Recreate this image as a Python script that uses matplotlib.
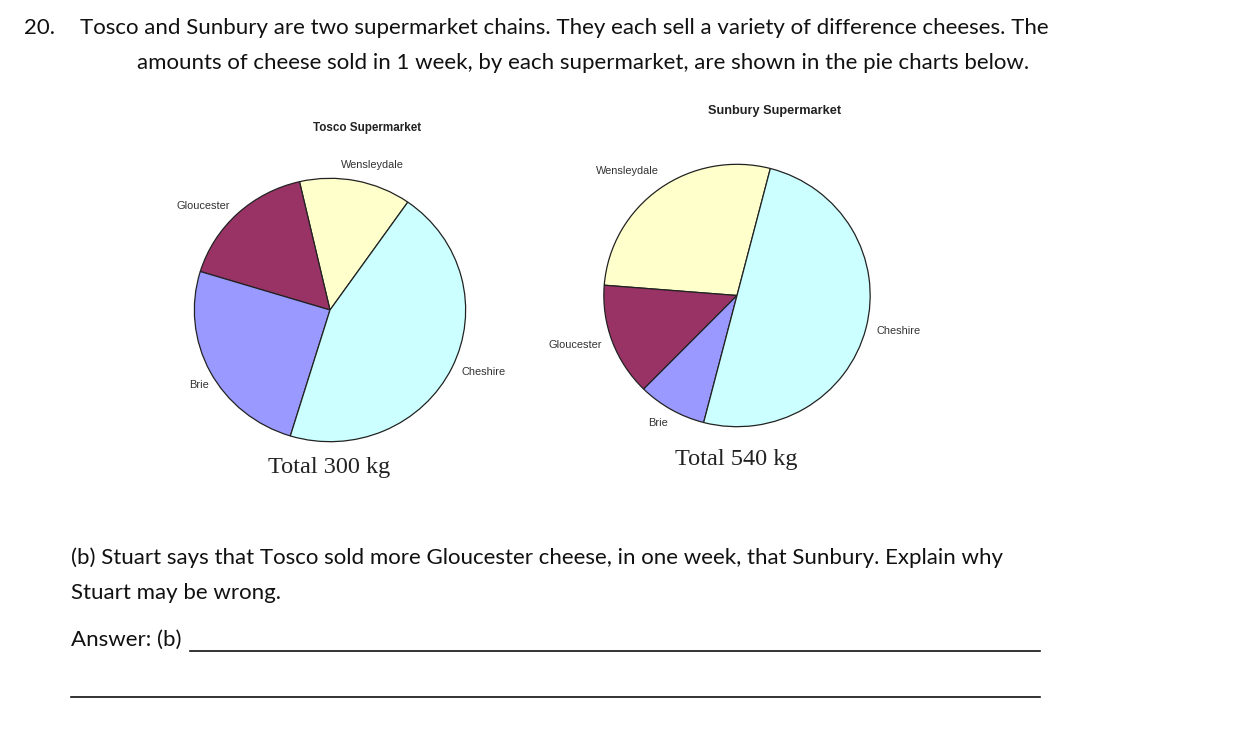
import matplotlib
matplotlib.use("Agg")
import matplotlib.pyplot as plt

# Cheese sales in one week (kg)
cheeses = ["Wensleydale", "Gloucester", "Brie", "Cheshire"]
tosco_kg = [40, 50, 75, 135]
sunbury_kg = [150, 75, 45, 270]
colors = ["#FFFFCC", "#993366", "#9999FF", "#CCFFFF"]

W, H = 1258, 752
TEXT_FONT = ["Lato", "DejaVu Sans"]
PIE_FONT = ["Liberation Sans", "DejaVu Sans"]

fig = plt.figure(figsize=(W / 100, H / 100), dpi=100)
fig.patch.set_facecolor("white")

# page layer in pixel coordinates
page = fig.add_axes([0, 0, 1, 1])
page.set_xlim(0, W)
page.set_ylim(H, 0)
page.axis("off")

body = dict(fontsize=16, family=TEXT_FONT, color="#111111", va="center", ha="left")
page.text(24, 28, "20.", **body)
page.text(80, 28, "Tosco and Sunbury are two supermarket chains. They each sell a variety of difference cheeses. The", **body)
page.text(137, 63, "amounts of cheese sold in 1 week, by each supermarket, are shown in the pie charts below.", **body)
page.text(71, 558, "(b) Stuart says that Tosco sold more Gloucester cheese, in one week, that Sunbury. Explain why", **body)
page.text(71, 593, "Stuart may be wrong.", **body)
page.text(71, 640, "Answer: (b)", **body)
page.plot([190, 1040], [651, 651], color="#111111", lw=1.2)
page.plot([71, 1040], [697, 697], color="#111111", lw=1.2)


def draw_pie(cx, cy, rx, ry, values, start, title, title_xy, title_size, total, total_xy, moves):
    ax = fig.add_axes([(cx - rx) / W, (H - cy - ry) / H, 2 * rx / W, 2 * ry / H])
    _, labels = ax.pie(values, labels=cheeses, colors=colors, startangle=start, counterclock=True,
                       labeldistance=1.08, radius=1,
                       wedgeprops=dict(edgecolor="#222222", linewidth=0.9),
                       textprops=dict(fontsize=7.9, family=PIE_FONT, color="#333333"))
    # nudge a few labels to where the original chart put them
    for idx, (pos, ha) in moves.items():
        labels[idx].set_position(pos)
        labels[idx].set_ha(ha)
    ax.set_aspect("auto")
    ax.set_xlim(-1.01, 1.01)
    ax.set_ylim(-1.01, 1.01)
    page.text(title_xy[0], title_xy[1], title, fontsize=title_size, fontweight="bold",
              family=PIE_FONT, ha="center", va="center", color="#222222")
    page.text(total_xy[0], total_xy[1], total, fontsize=17.5, family=["Liberation Serif", "DejaVu Serif"],
              ha="center", va="center", color="#222222")
    return ax


draw_pie(330, 310, 137, 133, tosco_kg, 55, "Tosco Supermarket", (367, 128), 8.4,
         "Total 300 kg", (329, 467),
         {0: ((0.314, 1.10), "center"), 2: ((-0.89, -0.57), "right")})
draw_pie(737, 295.5, 134.5, 132.5, sunbury_kg, 75.5, "Sunbury Supermarket", (775, 111), 9.2,
         "Total 540 kg", (736, 459),
         {0: ((-0.59, 0.95), "right"), 2: ((-0.595, -0.97), "center")})

fig.savefig("out.png", dpi=100, facecolor="white")
